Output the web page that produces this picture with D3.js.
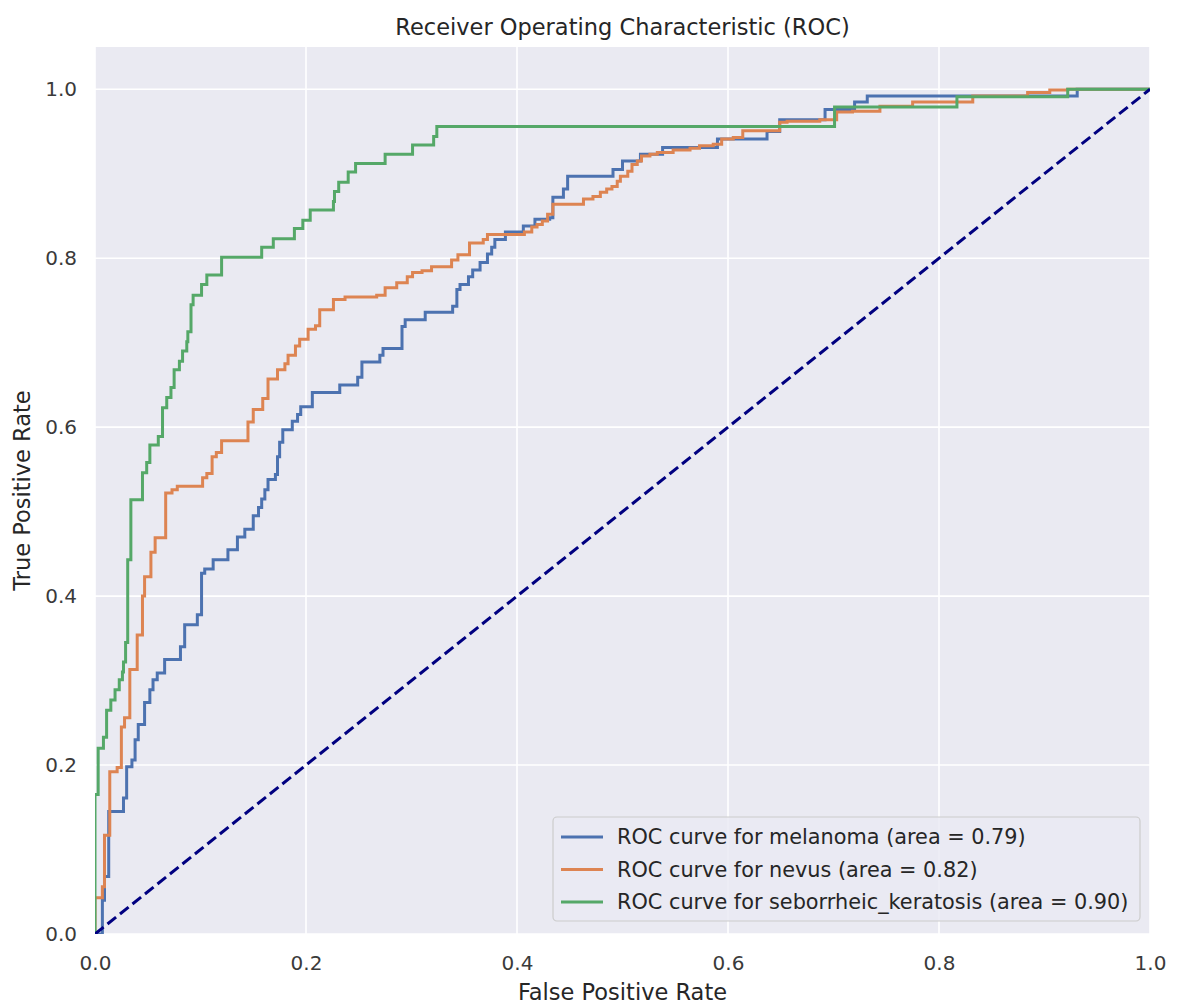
<!DOCTYPE html>
<html>
<head>
<meta charset="utf-8">
<script src="https://cdn.jsdelivr.net/npm/d3@7"></script>
<style>
  html, body { margin: 0; padding: 0; background: #ffffff; }
  svg { display: block; }
  text { font-family: "DejaVu Sans", sans-serif; }
</style>
</head>
<body>
<svg id="chart" width="1179" height="1005"></svg>
<script>
// ---- data (step vertices: fpr at each rise, tpr at top of rise) ----
const seriesNames = ["melanoma", "nevus", "seborrheic_keratosis"];
const seriesAUC = ["0.79", "0.82", "0.90"];
const xTicks = [0.0, 0.2, 0.4, 0.6, 0.8, 1.0];
const yTicks = [0.0, 0.2, 0.4, 0.6, 0.8, 1.0];

const melanomaFpr = [0, 0.007, 0.009, 0.013, 0.027, 0.030, 0.035, 0.038, 0.041, 0.047, 0.052, 0.055, 0.059, 0.066, 0.081, 0.085, 0.097, 0.101, 0.104, 0.112, 0.126, 0.135, 0.142, 0.150, 0.155, 0.158, 0.161, 0.164, 0.171, 0.173, 0.175, 0.178, 0.187, 0.192, 0.195, 0.206, 0.232, 0.249, 0.253, 0.270, 0.273, 0.291, 0.294, 0.313, 0.339, 0.343, 0.346, 0.354, 0.358, 0.365, 0.372, 0.376, 0.379, 0.389, 0.406, 0.417, 0.431, 0.434, 0.444, 0.448, 0.491, 0.500, 0.517, 0.538, 0.590, 0.637, 0.649, 0.692, 0.720, 0.732, 0.931, 1.0];
const melanomaTpr = [0, 0.040, 0.068, 0.145, 0.161, 0.198, 0.206, 0.230, 0.248, 0.274, 0.289, 0.301, 0.309, 0.325, 0.340, 0.366, 0.378, 0.427, 0.432, 0.443, 0.455, 0.470, 0.479, 0.495, 0.505, 0.515, 0.526, 0.538, 0.544, 0.565, 0.582, 0.597, 0.607, 0.615, 0.624, 0.641, 0.650, 0.659, 0.677, 0.685, 0.693, 0.719, 0.727, 0.736, 0.743, 0.763, 0.769, 0.778, 0.786, 0.795, 0.805, 0.813, 0.822, 0.831, 0.838, 0.846, 0.848, 0.872, 0.882, 0.897, 0.905, 0.915, 0.923, 0.931, 0.941, 0.950, 0.964, 0.976, 0.985, 0.992, 1.0, 1.0];

const nevusFpr = [0, 0, 0.007, 0.009, 0.014, 0.021, 0.025, 0.028, 0.033, 0.040, 0.045, 0.047, 0.053, 0.057, 0.067, 0.073, 0.078, 0.102, 0.106, 0.111, 0.115, 0.120, 0.145, 0.150, 0.159, 0.164, 0.173, 0.180, 0.183, 0.190, 0.194, 0.202, 0.209, 0.213, 0.226, 0.237, 0.267, 0.275, 0.286, 0.296, 0.301, 0.310, 0.319, 0.338, 0.344, 0.355, 0.368, 0.372, 0.407, 0.414, 0.419, 0.424, 0.429, 0.434, 0.463, 0.472, 0.479, 0.485, 0.490, 0.495, 0.498, 0.505, 0.509, 0.514, 0.518, 0.526, 0.533, 0.548, 0.564, 0.573, 0.586, 0.594, 0.605, 0.614, 0.649, 0.656, 0.687, 0.703, 0.718, 0.744, 0.775, 0.832, 0.884, 0.905, 0.922, 1.0];
const nevusTpr = [0, 0.043, 0.056, 0.117, 0.192, 0.197, 0.245, 0.256, 0.313, 0.354, 0.400, 0.423, 0.452, 0.469, 0.522, 0.526, 0.530, 0.540, 0.545, 0.565, 0.570, 0.584, 0.606, 0.621, 0.634, 0.657, 0.668, 0.675, 0.685, 0.696, 0.704, 0.716, 0.720, 0.739, 0.751, 0.754, 0.756, 0.765, 0.771, 0.778, 0.783, 0.785, 0.790, 0.798, 0.804, 0.818, 0.822, 0.828, 0.831, 0.837, 0.840, 0.844, 0.852, 0.864, 0.870, 0.873, 0.878, 0.882, 0.885, 0.891, 0.897, 0.903, 0.911, 0.915, 0.921, 0.923, 0.925, 0.928, 0.930, 0.933, 0.935, 0.941, 0.943, 0.951, 0.961, 0.962, 0.964, 0.973, 0.974, 0.980, 0.985, 0.992, 0.996, 0.999, 1.0, 1.0];

const keratosisFpr = [0, 0, 0.003, 0.008, 0.011, 0.015, 0.019, 0.023, 0.026, 0.027, 0.029, 0.031, 0.034, 0.045, 0.049, 0.052, 0.060, 0.064, 0.068, 0.072, 0.075, 0.080, 0.083, 0.087, 0.088, 0.091, 0.093, 0.101, 0.106, 0.120, 0.158, 0.169, 0.189, 0.197, 0.204, 0.226, 0.227, 0.231, 0.240, 0.247, 0.275, 0.301, 0.321, 0.324, 0.701, 0.817, 0.922, 1.0];
const keratosisTpr = [0, 0.165, 0.220, 0.233, 0.265, 0.277, 0.289, 0.301, 0.310, 0.322, 0.345, 0.443, 0.514, 0.546, 0.558, 0.579, 0.589, 0.623, 0.635, 0.647, 0.668, 0.678, 0.690, 0.701, 0.713, 0.745, 0.756, 0.769, 0.780, 0.801, 0.813, 0.823, 0.835, 0.845, 0.857, 0.867, 0.879, 0.890, 0.902, 0.912, 0.923, 0.934, 0.944, 0.956, 0.979, 0.991, 1.0, 1.0];

const diagonal = [0, 1];
const seriesColors = ["#4C72B0", "#DD8452", "#55A868"];

// ---- layout ----
const svg = d3.select("#chart");
const margin = { left: 95, right: 29, top: 47, bottom: 71 };
const W = 1179, H = 1005;
const x = d3.scaleLinear().domain([0, 1.0]).range([margin.left, W - margin.right]);
const y = d3.scaleLinear().domain([0, 1.05]).range([H - margin.bottom, margin.top]);

svg.append("defs").append("clipPath").attr("id", "plotClip")
  .append("rect")
  .attr("x", x(0)).attr("y", y(1.05))
  .attr("width", x(1) - x(0)).attr("height", y(0) - y(1.05));

// background
svg.append("rect")
  .attr("x", x(0)).attr("y", y(1.05))
  .attr("width", x(1) - x(0)).attr("height", y(0) - y(1.05))
  .attr("fill", "#EAEAF2");

// grid
const grid = svg.append("g");
grid.selectAll(".vg").data(xTicks).enter().append("line")
  .attr("x1", d => x(d)).attr("x2", d => x(d))
  .attr("y1", y(0)).attr("y2", y(1.05))
  .attr("stroke", "#ffffff").attr("stroke-width", 1.6);
grid.selectAll(".hg").data(yTicks).enter().append("line")
  .attr("x1", x(0)).attr("x2", x(1))
  .attr("y1", d => y(d)).attr("y2", d => y(d))
  .attr("stroke", "#ffffff").attr("stroke-width", 1.6);

// axes (labels only, no spines)
const xAxis = svg.append("g").attr("transform", `translate(0,${y(0)})`)
  .call(d3.axisBottom(x).tickValues(xTicks).tickFormat(d3.format(".1f")).tickSize(0).tickPadding(22));
const yAxis = svg.append("g").attr("transform", `translate(${x(0)},0)`)
  .call(d3.axisLeft(y).tickValues(yTicks).tickFormat(d3.format(".1f")).tickSize(0).tickPadding(18));
[xAxis, yAxis].forEach(a => {
  a.select(".domain").remove();
  a.selectAll("text").attr("font-size", 20).attr("fill", "#3a3a3a")
    .attr("font-family", "DejaVu Sans, sans-serif");
});

// curves
const plot = svg.append("g").attr("clip-path", "url(#plotClip)");
const curves = [
  { fpr: melanomaFpr, tpr: melanomaTpr },
  { fpr: nevusFpr, tpr: nevusTpr },
  { fpr: keratosisFpr, tpr: keratosisTpr }
];
const line = d3.line().x(d => x(d[0])).y(d => y(d[1])).curve(d3.curveStepAfter);
curves.forEach((c, i) => {
  const pts = c.fpr.map((f, j) => [f, c.tpr[j]]);
  plot.append("path").datum(pts)
    .attr("d", line)
    .attr("fill", "none")
    .attr("stroke", seriesColors[i])
    .attr("stroke-width", 3)
    .attr("stroke-linejoin", "miter");
});

// diagonal
plot.append("path")
  .datum(diagonal.map(v => [v, v]))
  .attr("d", d3.line().x(d => x(d[0])).y(d => y(d[1])))
  .attr("fill", "none")
  .attr("stroke", "navy")
  .attr("stroke-width", 3)
  .attr("stroke-dasharray", "11,5");

// title and axis labels
svg.append("text")
  .attr("x", (x(0) + x(1)) / 2).attr("y", 35)
  .attr("text-anchor", "middle").attr("font-size", 22.5).attr("fill", "#262626")
  .text("Receiver Operating Characteristic (ROC)");
svg.append("text")
  .attr("x", (x(0) + x(1)) / 2).attr("y", 1000)
  .attr("text-anchor", "middle").attr("font-size", 22.5).attr("fill", "#262626")
  .text("False Positive Rate");
svg.append("text")
  .attr("transform", `translate(30,${(y(0) + y(1.05)) / 2}) rotate(-90)`)
  .attr("text-anchor", "middle").attr("font-size", 22.5).attr("fill", "#262626")
  .text("True Positive Rate");

// legend
const lg = svg.append("g");
const lgX = 553, lgY = 817, lgW = 587, lgH = 104;
lg.append("rect")
  .attr("x", lgX).attr("y", lgY).attr("width", lgW).attr("height", lgH)
  .attr("rx", 4).attr("ry", 4)
  .attr("fill", "#EAEAF2").attr("fill-opacity", 0.8)
  .attr("stroke", "#cccccc").attr("stroke-width", 1.2);
seriesNames.forEach((name, i) => {
  const cy = lgY + 20 + i * 32.5;
  lg.append("line")
    .attr("x1", lgX + 8).attr("x2", lgX + 50)
    .attr("y1", cy).attr("y2", cy)
    .attr("stroke", seriesColors[i]).attr("stroke-width", 3);
  lg.append("text")
    .attr("x", lgX + 64).attr("y", cy).attr("dy", "0.35em")
    .attr("font-size", 20.8).attr("fill", "#262626")
    .text(`ROC curve for ${name} (area = ${seriesAUC[i]})`);
});
</script>
</body>
</html>
